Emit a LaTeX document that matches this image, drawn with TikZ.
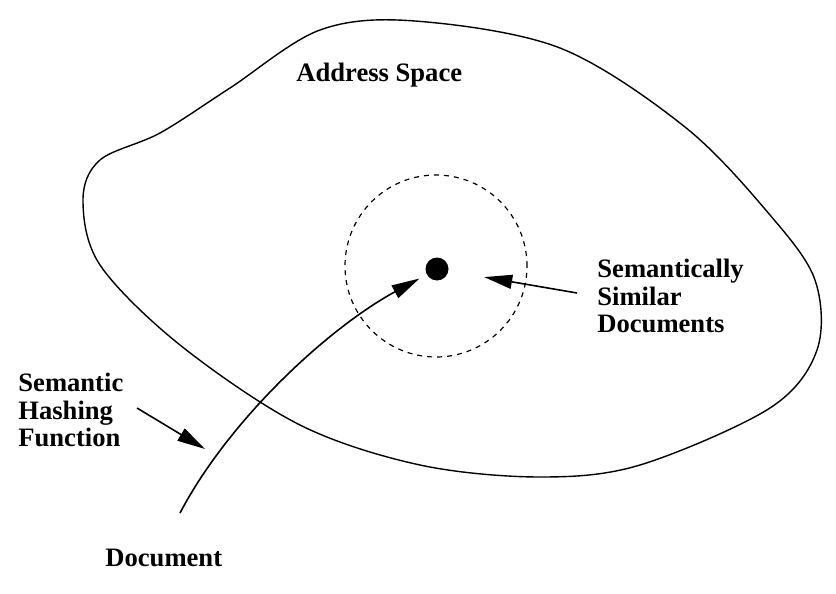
\documentclass[tikz,border=0pt]{standalone}
\usepackage{fontspec}
\setmainfont{Liberation Serif}
\usetikzlibrary{arrows.meta}
\begin{document}
\begin{tikzpicture}[x=0.5pt,y=-0.5pt,
    lbl/.style={draw=none,inner sep=0pt,anchor=west,align=left,
      font=\fontsize{13.3}{13.8}\selectfont\bfseries},
    arr/.style={line width=0.8pt,-{Triangle[length=14pt,width=7pt]}}]
  \useasboundingbox (0,0) rectangle (836,594);
  % address space outline
  \draw[line width=0.7pt] plot[smooth cycle,tension=0.55] coordinates {
    (415,21) (560,48) (685,127) (770,215) (815,280) (817,350)
    (770,408) (640,465) (540,477) (420,465) (300,425) (180,345)
    (100,265) (83,200) (100,160) (160,133) (230,88) (320,30)};
  \draw[dashed,dash pattern=on 2.5pt off 2.5pt,line width=0.6pt]
    (436,266) circle[radius=45.5pt];
  \node (dot) [circle,fill,inner sep=0pt,minimum size=11.5pt] at (437,269) {};
  \node (space) [lbl] at (296,75) {Address Space};
  \node (sim)   [lbl] at (597,296) {Semantically\\Similar\\Documents};
  \node (hash)  [lbl] at (18,410) {Semantic\\Hashing\\Function};
  \node (doc)   [lbl] at (105,558) {Document};
  \coordinate (simtail) at (577,293);
  \coordinate (hashtail) at (137,408);
  \coordinate (hashtip) at (205,449);
  \coordinate (doctail) at (180,513);
  \draw[arr,shorten >=18pt] (simtail) -- (dot);
  \draw[arr] (hashtail) -- (hashtip);
  \draw[arr,shorten >=4pt] (doctail) .. controls (230,418) and (330,327) .. (dot);
\end{tikzpicture}
\end{document}
